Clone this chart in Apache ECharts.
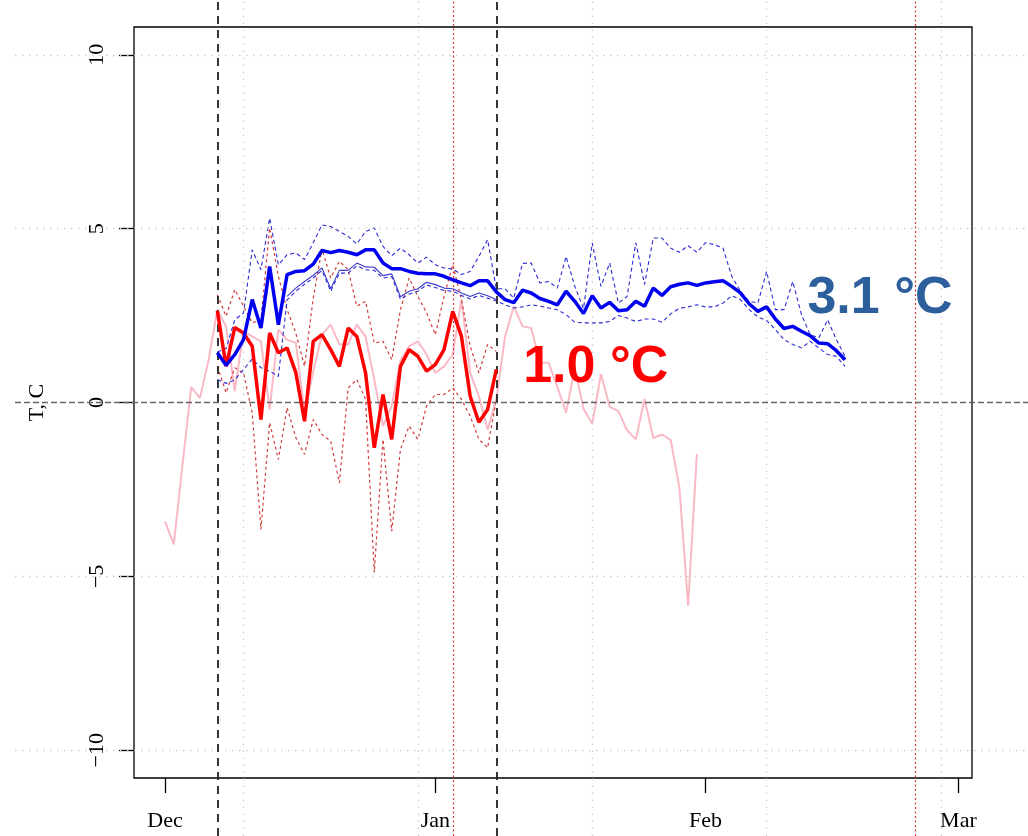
<!DOCTYPE html>
<html>
<head>
<meta charset="utf-8">
<script src="https://cdn.jsdelivr.net/npm/echarts@6/dist/echarts.min.js"></script>
<style>
  html, body { margin: 0; padding: 0; background: #fff; }
  #main { width: 1028px; height: 836px; }
</style>
</head>
<body>
<div id="main"></div>
<script>
// x values are days counted from 1 Dec
var monthTicks = [0, 31, 62, 91];
var monthLabels = ['Dec', 'Jan', 'Feb', 'Mar'];
var tempTicks = [-10, -5, 0, 5, 10];
var gridDays = [9, 29, 49, 69, 89];
var blackDashDays = [6, 38];
var redDotDays = [33, 86];

// observed (pink), from day 0
var pinkStart = 0;
var pinkObs = [-3.42, -4.08, -1.8, 0.44, 0.13, 1.23, 2.67, 2.19, 0.33, 2.05,
  1.9, 1.76, -0.2, 2.1, 1.8, 1.72, -0.3, 0.9, 1.95, 2.24,
  1.67, 1.67, 2.24, 1.9, 0.66, -0.68, -0.1, 1.2, 1.62, 1.76,
  1.38, 0.85, 1.04, 1.38, 2.96, 0.85, 0.18, -0.78, 0.09, 1.9,
  2.77, 2.19, 2.14, 1.14, 1.14, 0.45, -0.3, 1.0, -0.18, -0.62,
  0.82, -0.12, -0.25, -0.8, -1.06, 0.1, -1.02, -0.92, -1.08, -2.45,
  -5.85, -1.49];

// red group, from day 6
var redStart = 6;
var redMean = [2.64, 1.04, 2.16, 2.0, 1.62, -0.49, 2.0, 1.43, 1.57, 0.86,
  -0.54, 1.76, 1.95, 1.52, 1.04, 2.14, 1.9, 0.85, -1.3, 0.23,
  -1.06, 1.04, 1.52, 1.33, 0.9, 1.09, 1.52, 2.62, 1.9, 0.18,
  -0.57, -0.2, 0.95];
var redMax = [3.1, 2.48, 3.25, 2.77, 2.29, 2.38, 5.02, 3.63, 2.67, 2.0,
  1.04, 3.0, 4.42, 3.58, 4.06, 3.82, 2.77, 2.91, 1.71, 1.76,
  1.23, 2.67, 3.58, 3.05, 2.58, 1.95, 3.05, 3.96, 2.96, 1.62,
  0.85, 1.67, 1.47];
var redMin = [1.04, 0.28, 1.0, 0.85, -0.3, -3.65, -0.58, -1.64, -0.15, -1.01,
  -1.49, -0.49, -0.92, -1.11, -2.31, 0.42, 0.66, 0.09, -4.89, -1.06,
  -3.7, -1.35, -0.68, -1.06, -0.1, 0.23, 0.23, 0.42, 0.09, -0.39,
  -1.06, -1.3, 0.09];

// blue group, from day 6
var blueStart = 6;
var blueMean = [1.43, 1.07, 1.38, 1.81, 2.96, 2.14, 3.91, 2.24, 3.68, 3.77,
  3.79, 3.98, 4.37, 4.31, 4.37, 4.32, 4.25, 4.39, 4.39, 4.01,
  3.85, 3.85, 3.77, 3.72, 3.7, 3.7, 3.63, 3.53, 3.44, 3.36,
  3.5, 3.5, 3.18, 2.96, 2.87, 3.23, 3.15, 2.99, 2.91, 2.81,
  3.2, 2.91, 2.56, 3.07, 2.72, 2.88, 2.64, 2.67, 2.91, 2.77,
  3.29, 3.08, 3.33, 3.4, 3.44, 3.37, 3.44, 3.47, 3.5, 3.34,
  3.15, 2.84, 2.62, 2.75, 2.4, 2.13, 2.19, 2.05, 1.92, 1.71,
  1.69, 1.49, 1.23];
var blueMax = [1.45, 1.55, 2.38, 2.58, 4.39, 3.82, 5.3, 3.96, 4.25, 4.3,
  4.11, 4.6, 5.11, 5.06, 4.92, 4.78, 4.56, 4.92, 5.02, 4.49,
  4.22, 4.44, 4.25, 4.01, 4.18, 3.96, 3.87, 3.84, 3.68, 3.77,
  4.2, 4.68, 3.27, 3.27, 3.0, 4.0, 4.01, 3.44, 3.48, 3.29,
  4.2, 3.34, 2.7, 4.59, 3.34, 4.01, 2.86, 3.05, 4.59, 3.4,
  4.73, 4.73, 4.44, 4.32, 4.51, 4.32, 4.6, 4.54, 4.44, 3.63,
  3.2, 2.91, 2.86, 3.77, 2.67, 2.67, 3.48, 2.53, 1.95, 1.86,
  2.38, 1.81, 1.33];
var blueMin = [0.66, 0.55, 0.65, 0.95, 1.25, 1.0, 0.9, 0.75, 2.95, 3.2,
  3.4, 3.58, 3.8, 3.2, 3.72, 3.72, 3.93, 3.82, 3.8, 3.58,
  3.62, 2.97, 3.12, 3.2, 3.38, 3.31, 3.22, 3.2, 3.08, 2.98,
  3.08, 3.0, 2.92, 2.81, 2.72, 2.75, 2.81, 2.77, 2.72, 2.67,
  2.53, 2.31, 2.29, 2.29, 2.29, 2.33, 2.5, 2.43, 2.33, 2.4,
  2.4, 2.31, 2.55, 2.71, 2.75, 2.81, 2.75, 2.75, 2.86, 3.07,
  2.96, 2.67, 2.46, 2.36, 2.1, 1.81, 1.67, 1.57, 1.76, 1.57,
  1.38, 1.33, 1.04];
// thin solid blue, from day 14
var blueObsStart = 14;
var blueObs = [3.05, 3.29, 3.48, 3.66, 3.87, 3.27, 3.8, 3.8, 4.01, 3.9,
  3.89, 3.65, 3.7, 3.04, 3.2, 3.27, 3.46, 3.39, 3.29, 3.27,
  3.15, 3.05, 3.15, 3.07, 2.96];

var labelRed = '1.0 °C', labelRedAt = [49.4, 1.0];
var labelBlue = '3.1 °C', labelBlueAt = [82.0, 2.98];

function pairs(start, arr) {
  return arr.map(function (v, i) { return [start + i, v]; });
}
function fmtTemp(v) {
  return v < 0 ? '\u2212' + Math.abs(v) : String(v);
}

var serif = 'Liberation Serif';

function line(name, start, arr, color, width, type, z) {
  return {
    name: name, type: 'line', data: pairs(start, arr),
    xAxisIndex: 0, yAxisIndex: 0,
    showSymbol: false, symbol: 'none', animation: false, silent: true, z: z,
    lineStyle: { color: color, width: width, type: type }
  };
}

var gridMarks = [];
gridDays.forEach(function (d) {
  gridMarks.push({ xAxis: d, lineStyle: { color: '#cfcfcf', width: 1.3, type: [1.5, 5.5] } });
});
tempTicks.forEach(function (t) {
  if (t !== 0) gridMarks.push({ yAxis: t, lineStyle: { color: '#cfcfcf', width: 1.3, type: [1.5, 5.5] } });
});

var refMarks = [{ yAxis: 0, lineStyle: { color: '#666', width: 1.3, type: [6, 3] } }];
blackDashDays.forEach(function (d) {
  refMarks.push({ xAxis: d, lineStyle: { color: '#222', width: 1.8, type: [8, 6] } });
});
redDotDays.forEach(function (d) {
  refMarks.push({ xAxis: d, lineStyle: { color: '#d43a3a', width: 1.2, type: [2, 2.5] } });
});

var redSeries = line('redMean', redStart, redMean, '#ff0000', 3.5, 'solid', 6);
redSeries.markPoint = {
  symbol: 'rect', symbolSize: 1, itemStyle: { color: 'rgba(0,0,0,0)' }, animation: false,
  data: [{ coord: labelRedAt }],
  label: { show: true, position: 'inside', formatter: labelRed, color: '#ff0000',
    fontSize: 52, fontWeight: 'bold', fontFamily: 'Liberation Sans' }
};
var blueSeries = line('blueMean', blueStart, blueMean, '#0000f0', 3.5, 'solid', 7);
blueSeries.markPoint = {
  symbol: 'rect', symbolSize: 1, itemStyle: { color: 'rgba(0,0,0,0)' }, animation: false,
  data: [{ coord: labelBlueAt }],
  label: { show: true, position: 'inside', formatter: labelBlue, color: '#2c5f9c',
    fontSize: 52, fontWeight: 'bold', fontFamily: 'Liberation Sans' }
};

var option = {
  backgroundColor: '#fff',
  animation: false,
  grid: [
    { left: 134, right: 56, top: 27, bottom: 58, show: true, borderColor: '#000',
      borderWidth: 1.3, backgroundColor: 'rgba(0,0,0,0)', z: 3 },
    { left: 15, right: 0, top: 0, bottom: 0, show: false }
  ],
  xAxis: [
    { type: 'value', gridIndex: 0, min: -3.56, max: 92.56,
      axisLine: { show: false, onZero: false },
      axisTick: { show: true, inside: false, length: 15, customValues: monthTicks,
        lineStyle: { color: '#000', width: 1.3 } },
      axisLabel: { show: true, customValues: monthTicks, margin: 32,
        fontFamily: serif, fontSize: 22, color: '#000',
        formatter: function (v) { return monthLabels[monthTicks.indexOf(v)]; } },
      splitLine: { show: false } },
    { type: 'value', gridIndex: 1, min: -17.21, max: 98.98, show: false }
  ],
  yAxis: [
    { type: 'value', gridIndex: 0, min: -10.8, max: 10.8,
      name: 'T, C', nameLocation: 'middle', nameGap: 86, nameRotate: 90,
      nameTextStyle: { fontFamily: serif, fontSize: 22, color: '#000' },
      axisLine: { show: false, onZero: false },
      axisTick: { show: true, inside: false, length: 15, customValues: tempTicks,
        lineStyle: { color: '#000', width: 1.3 } },
      axisLabel: { show: true, customValues: tempTicks, rotate: 90, margin: 26,
        fontFamily: serif, fontSize: 22, color: '#000', formatter: fmtTemp },
      splitLine: { show: false } },
    { type: 'value', gridIndex: 1, min: -12.468, max: 11.577, show: false }
  ],
  series: [
    { type: 'line', xAxisIndex: 1, yAxisIndex: 1, data: [], z: 1, silent: true,
      markLine: { symbol: ['none', 'none'], silent: true, animation: false,
        label: { show: false }, data: gridMarks } },
    line('pink', pinkStart, pinkObs, '#f9b9c5', 2, 'solid', 2),
    line('redMax', redStart, redMax, '#d23c3c', 1.2, [3, 3], 3),
    line('redMin', redStart, redMin, '#d23c3c', 1.2, [3, 3], 3),
    line('blueMax', blueStart, blueMax, '#2a2ad6', 1.1, [4, 3], 4),
    line('blueMin', blueStart, blueMin, '#2a2ad6', 1.1, [4, 3], 4),
    line('blueObs', blueObsStart, blueObs, '#3b3bcc', 1.1, 'solid', 5),
    redSeries,
    blueSeries,
    { type: 'line', xAxisIndex: 1, yAxisIndex: 1, data: [], z: 8, silent: true,
      markLine: { symbol: ['none', 'none'], silent: true, animation: false,
        label: { show: false }, data: refMarks } }
  ]
};

var chart = echarts.init(document.getElementById('main'));
chart.setOption(option);
</script>
</body>
</html>
